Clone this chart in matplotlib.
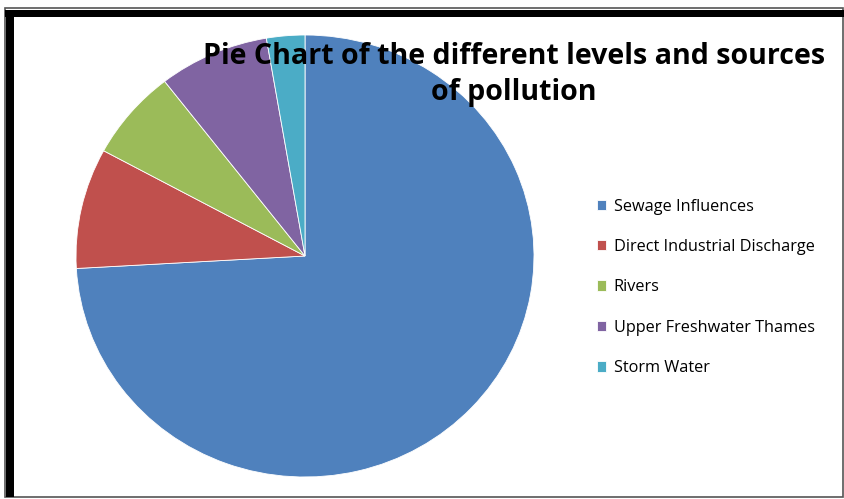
import matplotlib.pyplot as plt
from matplotlib.patches import Rectangle

labels = ['Sewage Influences', 'Direct Industrial Discharge', 'Rivers',
          'Upper Freshwater Thames', 'Storm Water']
values = [74.1, 8.8, 6.6, 7.8, 2.7]
colors = ['#4F81BD', '#C0504D', '#9BBB59', '#8064A2', '#4BACC6']

W, H = 844, 499
fig = plt.figure(figsize=(W / 100, H / 100), dpi=100)

# pie area (pixels from the top-left corner of the picture)
px0, px1, py0, py1 = 76, 534, 35, 477
ax = fig.add_axes([px0 / W, (H - py1) / H, (px1 - px0) / W, (py1 - py0) / H])
wedges, _ = ax.pie(values, colors=colors, startangle=90, counterclock=False,
                   wedgeprops=dict(edgecolor='white', linewidth=0.6))
ax.set_aspect('auto')
ax.set_xlim(-1, 1)
ax.set_ylim(-1, 1)
ax.axis('off')

# frame around the chart
fig.patches.append(Rectangle((5 / W, 2 / H), 838 / W, 489 / H, transform=fig.transFigure,
                             fill=False, edgecolor='#555555', linewidth=1.2))
fig.patches.append(Rectangle((5 / W, (H - 17) / H), 839 / W, 7 / H, transform=fig.transFigure,
                             color='black', linewidth=0))
fig.patches.append(Rectangle((6 / W, 2 / H), 8 / W, (H - 12) / H, transform=fig.transFigure,
                             color='black', linewidth=0))

fig.text(514 / W, 1 - 42 / H, 'Pie Chart of the different levels and sources\nof pollution',
         ha='center', va='top', fontsize=20.6, fontweight='bold', family='Open Sans',
         linespacing=1.3, color='black')

fig.legend(wedges, labels, loc='upper left', bbox_to_anchor=(582 / W, 1 - 184 / H),
           frameon=False, handlelength=0.6, handleheight=0.6, handletextpad=0.45,
           labelspacing=1.5, prop=dict(family='Open Sans', size=11.7))

fig.savefig('out.png', dpi=100)
